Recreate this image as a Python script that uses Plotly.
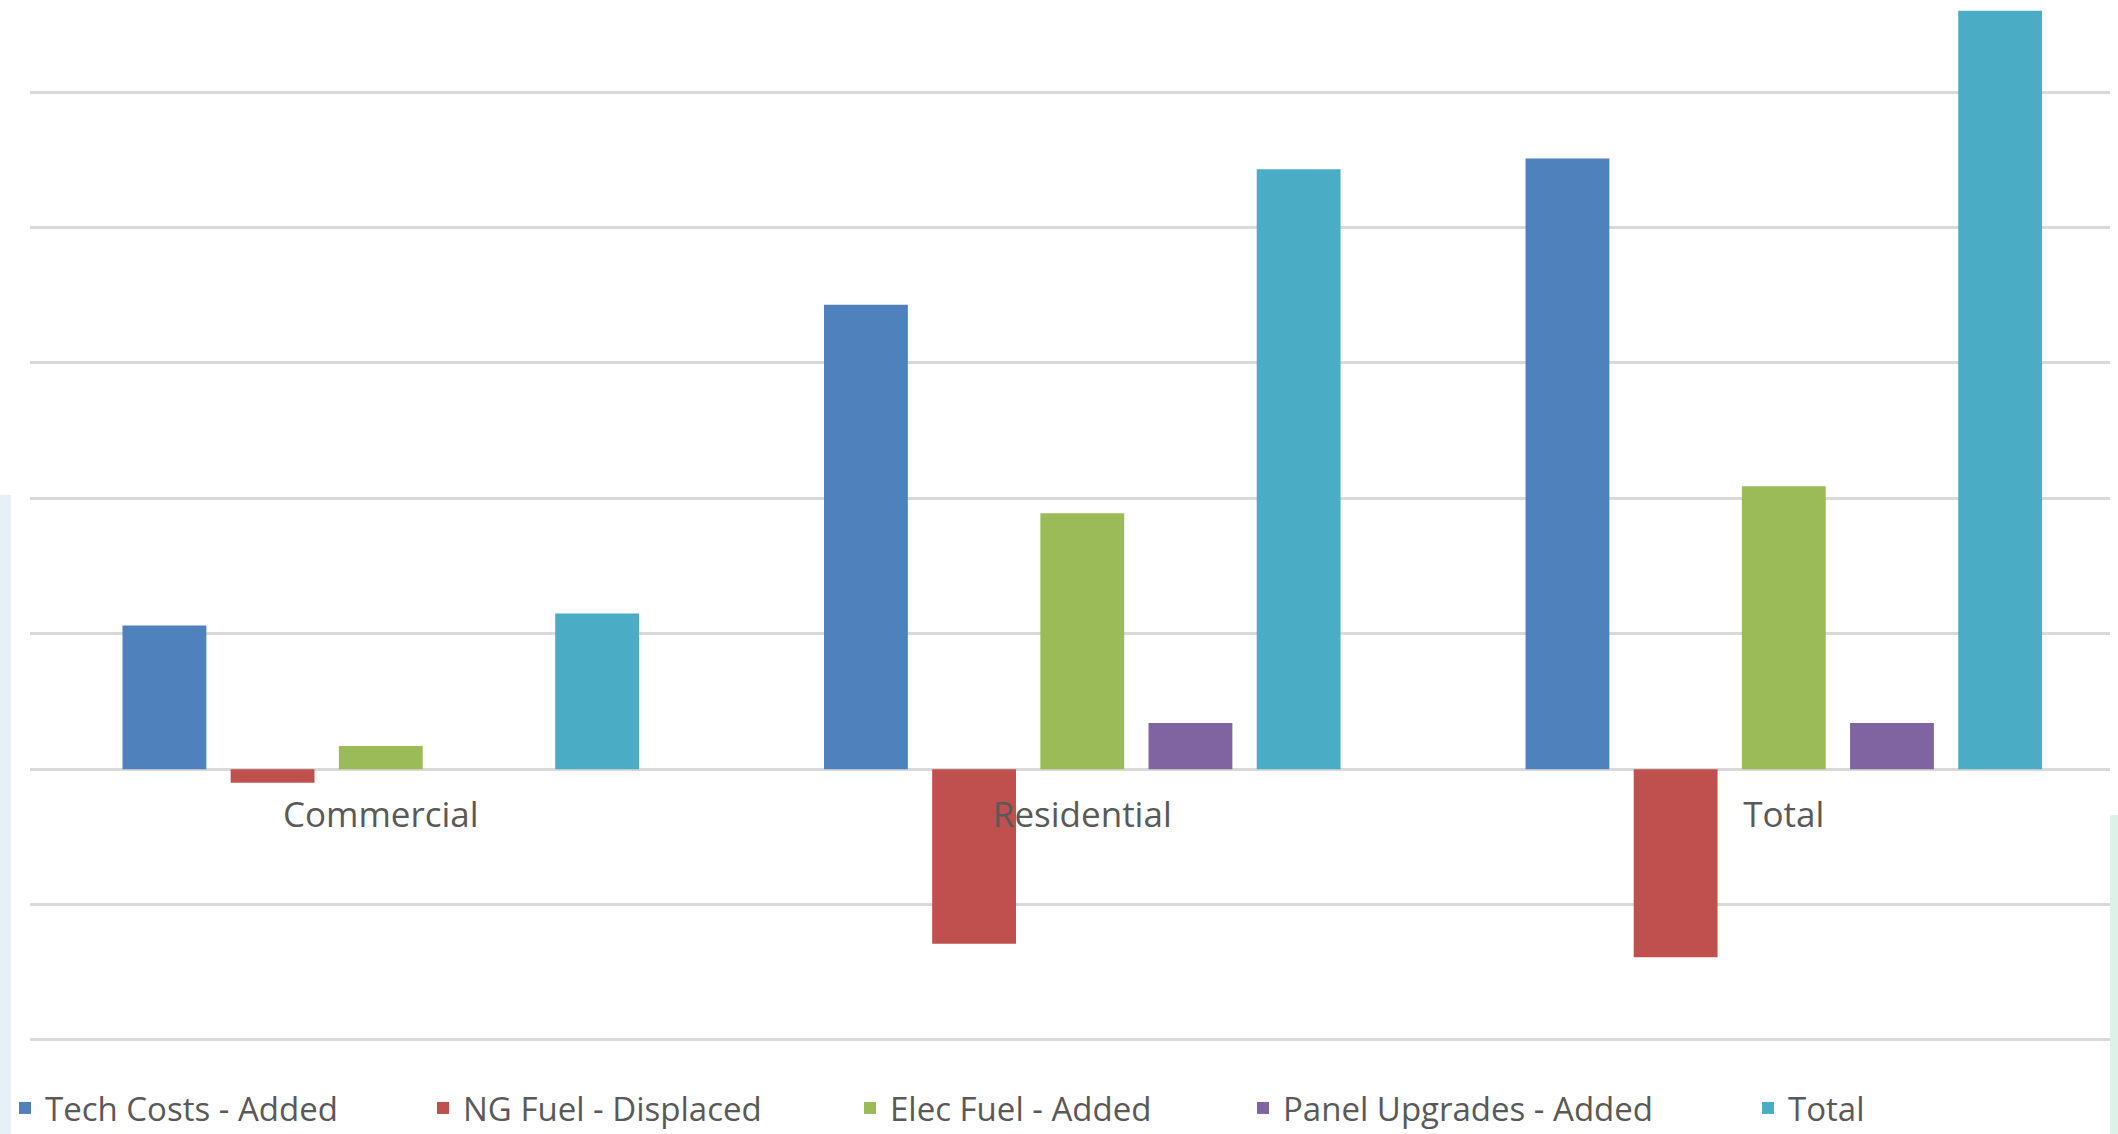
import plotly.graph_objects as go

# Cost components by sector (one unit = one gridline step)
categories = ["Commercial", "Residential", "Total"]
tech_costs_added = [1.06, 3.43, 4.51]
ng_fuel_displaced = [-0.10, -1.29, -1.39]
elec_fuel_added = [0.17, 1.89, 2.09]
panel_upgrades_added = [0.0, 0.34, 0.34]
total = [1.15, 4.43, 5.60]

series_names = ["Tech Costs - Added", "NG Fuel - Displaced", "Elec Fuel - Added",
                "Panel Upgrades - Added", "Total"]
series_values = [tech_costs_added, ng_fuel_displaced, elec_fuel_added,
                 panel_upgrades_added, total]
series_colors = ["#4F81BD", "#C0504D", "#9BBB59", "#8064A2", "#4BACC6"]

W, H = 2118, 1134
M_L, M_R, M_T, M_B = 30, 8, 0, 92
Y_MIN, Y_MAX = -2.015, 5.68
plot_w = W - M_L - M_R
plot_h = H - M_T - M_B

TEXT_COLOR = "#595959"
GRID_COLOR = "#D9D9D9"
FONT = "Open Sans"

# left pixel where each legend entry's text begins
legend_text_px = [45, 463, 890, 1283, 1788]
legend_center_py = 1108

fig = go.Figure()
legend_ids = ["legend", "legend2", "legend3", "legend4", "legend5"]
for name, vals, color, lid in zip(series_names, series_values, series_colors, legend_ids):
    fig.add_trace(go.Bar(
        x=categories, y=vals, name=name, legend=lid,
        marker=dict(color=color, line=dict(width=0)),
    ))

legend_layouts = {}
for lid, tx in zip(legend_ids, legend_text_px):
    legend_layouts[lid] = dict(
        x=(tx - 40 - M_L) / plot_w,
        xanchor="left",
        y=(H - M_B - legend_center_py) / plot_h,
        yanchor="middle",
        orientation="h",
        bgcolor="rgba(0,0,0,0)",
        borderwidth=0,
        font=dict(family=FONT, size=33, color=TEXT_COLOR),
    )

zero_pos = (0 - Y_MIN) / (Y_MAX - Y_MIN)

fig.update_layout(
    width=W, height=H,
    margin=dict(l=M_L, r=M_R, t=M_T, b=M_B, autoexpand=False),
    paper_bgcolor="white", plot_bgcolor="white",
    barmode="group", bargap=0.229, bargroupgap=0.225,
    showlegend=True,
    **legend_layouts,
    xaxis=dict(
        type="category", range=[-0.5, 2.465],
        anchor="free", position=zero_pos,
        showgrid=False, showline=False, zeroline=False,
        ticks="", ticklabelstandoff=22, automargin=False,
        tickfont=dict(family=FONT, size=35, color=TEXT_COLOR),
    ),
    yaxis=dict(
        range=[Y_MIN, Y_MAX], dtick=1, tick0=0,
        showgrid=True, gridcolor=GRID_COLOR, gridwidth=3,
        zeroline=True, zerolinecolor=GRID_COLOR, zerolinewidth=3,
        showticklabels=False, ticks="", showline=False, automargin=False,
    ),
    shapes=[
        # pale slide background peeking in at the left and right edges
        dict(type="rect", xref="paper", yref="paper",
             x0=-M_L / plot_w, x1=(11 - M_L) / plot_w,
             y0=(H - M_B - 1134) / plot_h, y1=(H - M_B - 495) / plot_h,
             fillcolor="#E6F1F7", line=dict(width=0), layer="below"),
        dict(type="rect", xref="paper", yref="paper",
             x0=1.0, x1=(W - M_L) / plot_w,
             y0=(H - M_B - 1134) / plot_h, y1=(H - M_B - 815) / plot_h,
             fillcolor="#DDF1E8", line=dict(width=0), layer="below"),
    ],
)

fig.write_html("out.html")
